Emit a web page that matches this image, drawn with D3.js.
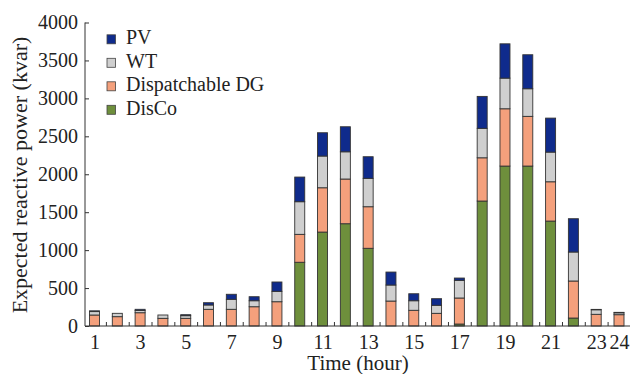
<!DOCTYPE html>
<html>
<head>
<meta charset="utf-8">
<script src="https://cdn.jsdelivr.net/npm/d3@7"></script>
<style>
  body { margin: 0; background: #fff; }
  svg { display: block; font-family: "Liberation Serif", "Times New Roman", serif; }
  .axis path, .axis line { stroke: #333; }
  .axis text { font-family: "Liberation Serif", serif; font-size: 20px; fill: #222; }
</style>
</head>
<body>
<div id="chart"></div>
<script>
// data (kvar)
const hours = d3.range(1, 25);
const disco = [0, 0, 0, 0, 0, 0, 0, 0, 0, 840, 1238, 1348, 1024, 0, 0, 0, 26, 1647, 2108, 2108, 1383, 105, 0, 0];
const dg = [145, 123, 175, 101, 101, 220, 220, 254, 320, 368, 584, 589, 548, 329, 207, 167, 343, 570, 755, 655, 518, 488, 154, 149];
const wt = [45, 44, 30, 44, 35, 57, 132, 79, 137, 430, 418, 359, 374, 211, 126, 106, 233, 388, 404, 364, 391, 382, 60, 25];
const pv = [10, 0, 15, 0, 13, 30, 66, 53, 123, 325, 307, 330, 285, 171, 92, 87, 30, 421, 452, 448, 448, 439, 5, 6];
const seriesNames = ['DisCo', 'Dispatchable DG', 'WT', 'PV'];
const seriesColors = ['#6e8f3c', '#f4a07c', '#cfcfcf', '#0f2b8c'];
const xTickLabels = [1, 3, 5, 7, 9, 11, 13, 15, 17, 19, 21, 23, 24];
const yTicks = [0, 500, 1000, 1500, 2000, 2500, 3000, 3500, 4000];

const width = 630, height = 374;
const rows = hours.map((h, i) => ({ hour: h, 'DisCo': disco[i], 'Dispatchable DG': dg[i], 'WT': wt[i], 'PV': pv[i] }));

const svg = d3.select('#chart').append('svg')
  .attr('width', width)
  .attr('height', height);

const x = d3.scaleLinear().domain([1, 24]).range([94.5, 619]);
const y = d3.scaleLinear().domain([0, 4000]).range([326, 22.5]);
const color = d3.scaleOrdinal().domain(seriesNames).range(seriesColors);

const stacked = d3.stack().keys(seriesNames)(rows);
const barW = 10;

svg.append('g')
  .selectAll('g')
  .data(stacked)
  .enter()
  .append('g')
  .attr('fill', (d) => color(d.key))
  .selectAll('rect')
  .data((d) => d.filter((s) => s[1] - s[0] > 0))
  .enter()
  .append('rect')
  .attr('x', (d) => x(d.data.hour) - barW / 2)
  .attr('y', (d) => y(d[1]))
  .attr('width', barW)
  .attr('height', (d) => y(d[0]) - y(d[1]))
  .attr('stroke', '#333')
  .attr('stroke-width', 0.9);

// y axis, ticks pointing inward
const yAxis = svg.append('g')
  .attr('class', 'axis')
  .attr('transform', 'translate(85,0)')
  .call(d3.axisLeft(y).tickValues(yTicks).tickFormat(d3.format('d')).tickSizeInner(-4).tickSizeOuter(0).tickPadding(7));
yAxis.select('.domain').attr('d', `M0,${y(0)}V${y(4000)}`);

// x axis: minor ticks between hours, labels at selected hours
svg.append('g')
  .attr('class', 'axis')
  .attr('transform', `translate(0,${y(0)})`)
  .call(d3.axisBottom(x).tickValues(hours.slice(0, 23).map((h) => h + 0.5)).tickSizeInner(-4).tickSizeOuter(0).tickFormat(''))
  .select('.domain').attr('d', `M85,0H${width}`);

svg.append('g')
  .attr('class', 'axis')
  .attr('transform', `translate(0,${y(0)})`)
  .call(d3.axisBottom(x).tickValues(xTickLabels).tickSize(0).tickPadding(9).tickFormat(d3.format('d')))
  .select('.domain').remove();

svg.append('text')
  .attr('x', 358)
  .attr('y', 370)
  .attr('text-anchor', 'middle')
  .style('font-size', '21px')
  .attr('fill', '#222')
  .text('Time (hour)');

svg.append('text')
  .attr('transform', 'translate(27,175) rotate(-90)')
  .attr('text-anchor', 'middle')
  .style('font-size', '22px')
  .attr('fill', '#222')
  .text('Expected reactive power (kvar)');

// legend, PV on top
const legendItems = seriesNames.slice().reverse();
const legend = svg.append('g')
  .selectAll('g')
  .data(legendItems)
  .enter()
  .append('g')
  .attr('transform', (d, i) => `translate(107,${39.3 + i * 23.5})`);

legend.append('rect')
  .attr('x', 0)
  .attr('y', -4.5)
  .attr('width', 8.5)
  .attr('height', 9)
  .attr('fill', (d) => color(d))
  .attr('stroke', '#444')
  .attr('stroke-width', 0.8);

legend.append('text')
  .attr('x', 19)
  .attr('y', 5)
  .style('font-size', '20px')
  .attr('fill', '#222')
  .text((d) => d);
</script>
</body>
</html>
